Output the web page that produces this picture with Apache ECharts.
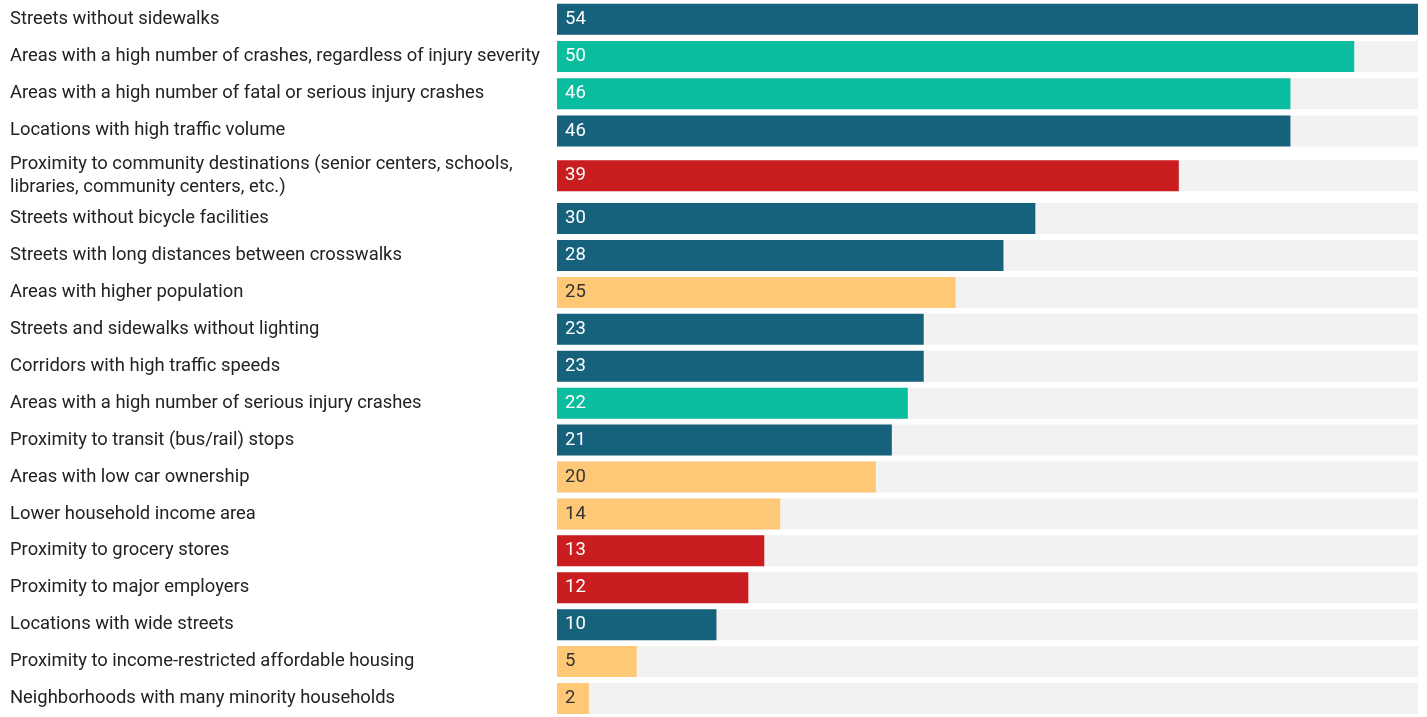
<!DOCTYPE html>
<html>
<head>
<meta charset="utf-8">
<script src="https://cdn.jsdelivr.net/npm/echarts@6/dist/echarts.min.js"></script>
<style>
  html, body { margin: 0; padding: 0; background: #fff; }
  #chart { width: 1427px; height: 717px; }
</style>
</head>
<body>
<div id="chart"></div>
<script>
// categories, top to bottom
const categories = [
  'Streets without sidewalks',
  'Areas with a high number of crashes, regardless of injury severity',
  'Areas with a high number of fatal or serious injury crashes',
  'Locations with high traffic volume',
  'Proximity to community destinations (senior centers, schools,\nlibraries, community centers, etc.)',
  'Streets without bicycle facilities',
  'Streets with long distances between crosswalks',
  'Areas with higher population',
  'Streets and sidewalks without lighting',
  'Corridors with high traffic speeds',
  'Areas with a high number of serious injury crashes',
  'Proximity to transit (bus/rail) stops',
  'Areas with low car ownership',
  'Lower household income area',
  'Proximity to grocery stores',
  'Proximity to major employers',
  'Locations with wide streets',
  'Proximity to income-restricted affordable housing',
  'Neighborhoods with many minority households'
];
const values = [54, 50, 46, 46, 39, 30, 28, 25, 23, 23, 22, 21, 20, 14, 13, 12, 10, 5, 2];
// group of each row: infra, crash, dest, demo
const groups = ['infra', 'crash', 'crash', 'infra', 'dest', 'infra', 'infra', 'demo', 'infra', 'infra',
  'crash', 'infra', 'demo', 'demo', 'dest', 'dest', 'infra', 'demo', 'demo'];

const groupColor = { infra: '#16617b', crash: '#0bbd9f', dest: '#c91d1f', demo: '#fec877' };
const groupText = { infra: '#ffffff', crash: '#ffffff', dest: '#ffffff', demo: '#333333' };

// the two-line row is taller, so rows are split into blocks with their own grid
const blocks = [
  { from: 0, to: 4, top: 0.7, height: 148.8 },
  { from: 4, to: 5, top: 153.8, height: 44 },
  { from: 5, to: 19, top: 200.1, height: 521.4 }
];

const chart = echarts.init(document.getElementById('chart'), null, { renderer: 'canvas' });

chart.setOption({
  animation: false,
  grid: blocks.map(b => ({ left: 557, right: 9, top: b.top, height: b.height })),
  xAxis: blocks.map((b, i) => ({
    type: 'value',
    gridIndex: i,
    min: 0,
    max: 54,
    show: false
  })),
  yAxis: blocks.map((b, i) => ({
    type: 'category',
    gridIndex: i,
    inverse: true,
    data: categories.slice(b.from, b.to),
    axisLine: { show: false },
    axisTick: { show: false },
    axisLabel: {
      align: 'left',
      margin: 547,
      color: '#222222',
      fontFamily: 'Roboto',
      fontSize: 18.4,
      lineHeight: 23,
      padding: [3, 0, 0, 0]
    }
  })),
  series: blocks.map((b, i) => ({
    type: 'bar',
    xAxisIndex: i,
    yAxisIndex: i,
    barWidth: 31,
    showBackground: true,
    backgroundStyle: { color: '#f2f2f2' },
    data: values.slice(b.from, b.to).map((v, k) => {
      const g = groups[b.from + k];
      return {
        value: v,
        itemStyle: { color: groupColor[g] },
        label: { color: groupText[g] }
      };
    }),
    label: {
      show: true,
      position: 'insideLeft',
      distance: 8,
      fontFamily: 'Roboto',
      fontSize: 18.5,
      padding: [3, 0, 0, 0]
    }
  }))
});
</script>
</body>
</html>
